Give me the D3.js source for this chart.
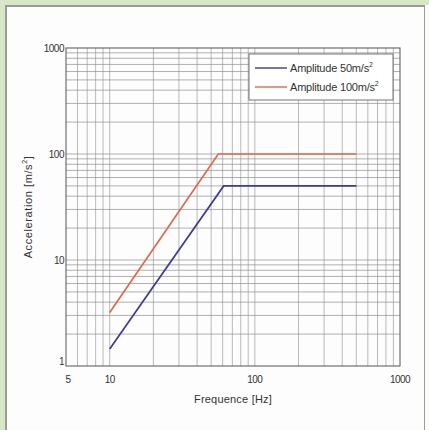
<!DOCTYPE html>
<html><head><meta charset="utf-8">
<script src="https://cdn.jsdelivr.net/npm/d3@7"></script>
<style>
html,body{margin:0;padding:0;background:#d7e7c8;}
svg{display:block;}
</style></head>
<body>
<svg id="c" width="429" height="430"></svg>
<script>
const xTicks = [5, 10, 100, 1000];
const yTicks = [1, 10, 100, 1000];
const series = [
  {name: "Amplitude 50m/s", color: "#3c3c98", freq: [10, 61, 500], acc: [1.45, 50, 50]},
  {name: "Amplitude 100m/s", color: "#e0684a", freq: [10, 56, 500], acc: [3.2, 100, 100]}
];

const svg = d3.select("#c");
svg.append("rect").attr("x",0).attr("y",0).attr("width",429).attr("height",430).attr("fill","#d7e7c8");
svg.append("rect").attr("x",5).attr("y",5).attr("width",420).attr("height",425).attr("fill","#9a9a9a");
svg.append("rect").attr("x",7).attr("y",7).attr("width",417).attr("height",423).attr("fill","#fdfdfd");
svg.append("rect").attr("x",425).attr("y",5).attr("width",4).attr("height",425).attr("fill","#fbfcfa");

const L = 66, R = 400, T = 48, B = 366;
const x = d3.scaleLog().domain([5, 1000]).range([L, R]);
const y = d3.scaleLog().domain([1, 1000]).range([B, T]);

const g = svg.append("g");
const xGrid = [];
for (let d = 1; d <= 100; d *= 10) for (let m = 1; m <= 9; m++) { const v = m*d; if (v > 5 && v < 1000) xGrid.push(v); }
const yGrid = [];
for (let d = 1; d <= 100; d *= 10) for (let m = 1; m <= 9; m++) { const v = m*d; if (v > 1 && v < 1000) yGrid.push(v); }

g.selectAll(".xg").data(xGrid).enter().append("line")
  .attr("x1", d => x(d)).attr("x2", d => x(d)).attr("y1", T).attr("y2", B)
  .attr("stroke", "#9a9a9a").attr("stroke-width", 0.9).attr("stroke-opacity", 0.75);
g.selectAll(".yg").data(yGrid).enter().append("line")
  .attr("y1", d => y(d)).attr("y2", d => y(d)).attr("x1", L).attr("x2", R)
  .attr("stroke", "#8a8a8a").attr("stroke-width", 0.9).attr("stroke-opacity", 0.75);

g.append("rect").attr("x", L).attr("y", T).attr("width", R-L).attr("height", B-T)
  .attr("fill", "none").attr("stroke", "#555").attr("stroke-width", 1);

const font = "'Liberation Sans', Arial, sans-serif";
g.selectAll(".xt").data(xTicks).enter().append("text")
  .attr("x", d => x(d) + (d === 5 ? 2 : 0)).attr("y", B + 17)
  .attr("text-anchor", "middle").attr("font-family", font).attr("font-size", 10)
  .attr("fill", "#333").attr("letter-spacing", "-0.5")
  .text(d => d);
g.selectAll(".yt").data(yTicks).enter().append("text")
  .attr("x", L - 2).attr("y", d => y(d) + (d === 1 ? -1 : 4))
  .attr("text-anchor", "end").attr("font-family", font).attr("font-size", 10)
  .attr("fill", "#333").attr("letter-spacing", "-0.5")
  .text(d => d);

svg.append("text").attr("x", 233).attr("y", 403).attr("text-anchor", "middle")
  .attr("font-family", font).attr("font-size", 11).attr("fill", "#333").attr("letter-spacing", "0.2")
  .text("Frequence [Hz]");
const yl = svg.append("text").attr("transform", "translate(32,207) rotate(-90)")
  .attr("text-anchor", "middle").attr("font-family", font).attr("font-size", 11)
  .attr("fill", "#333").attr("letter-spacing", "0.6");
yl.append("tspan").text("Acceleration [m/s");
yl.append("tspan").attr("font-size", 7).attr("dy", -5).text("2");
yl.append("tspan").attr("dy", 5).text("]");

const line = d3.line().x(d => x(d[0])).y(d => y(d[1]));
series.forEach(s => {
  const pts = s.freq.map((f, i) => [f, s.acc[i]]);
  g.append("path").datum(pts).attr("d", line).attr("fill", "none")
    .attr("stroke", s.color).attr("stroke-width", 1.7);
});

const lg = svg.append("g");
lg.append("rect").attr("x", 249).attr("y", 54).attr("width", 144).attr("height", 46)
  .attr("fill", "#fff").attr("stroke", "#666").attr("stroke-width", 0.9);
series.forEach((s, i) => {
  const yy = 68 + i*19;
  lg.append("line").attr("x1", 255).attr("x2", 287).attr("y1", yy).attr("y2", yy)
    .attr("stroke", s.color).attr("stroke-width", 1.4);
  const t = lg.append("text").attr("x", 290).attr("y", yy + 4).attr("font-family", font)
    .attr("font-size", 11).attr("fill", "#333").attr("letter-spacing", "-0.2");
  t.append("tspan").text(s.name);
  t.append("tspan").attr("font-size", 7).attr("dy", -5).text("2");
});
</script>
</body></html>
